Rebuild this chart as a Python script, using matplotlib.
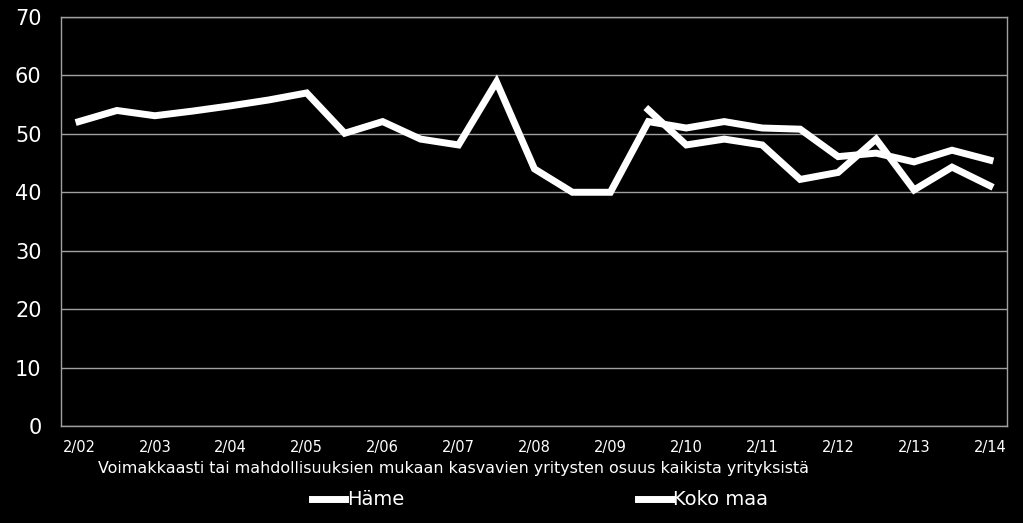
import matplotlib
matplotlib.use("Agg")
import matplotlib.pyplot as plt

# Data (half-year points, 2/02 ... 2/14)
x_pos = list(range(25))
hame = [52.1, 54.0, 53.1, 53.9, 54.8, 55.8, 57.0, 50.1, 52.1, 49.1, 48.1, 58.9,
        44.0, 40.0, 40.0, 52.1, 51.0, 52.1, 51.0, 50.8, 46.1, 46.7, 45.2, 47.2, 45.5]
koko_x = list(range(15, 25))
koko_maa = [54.1, 48.1, 49.1, 48.1, 42.2, 43.4, 49.1, 40.4, 44.3, 41.1]
tick_pos = list(range(0, 25, 2))
tick_labels = ["2/02", "2/03", "2/04", "2/05", "2/06", "2/07", "2/08",
               "2/09", "2/10", "2/11", "2/12", "2/13", "2/14"]

fig = plt.figure(figsize=(10.23, 5.23), dpi=100, facecolor="black")
ax = fig.add_axes([0.0596, 0.1855, 0.9248, 0.782], facecolor="black")

ax.plot(x_pos, hame, color="white", lw=5, solid_joinstyle="miter", label="Häme")
ax.plot(koko_x, koko_maa, color="white", lw=5, solid_joinstyle="miter", label="Koko maa")

ax.set_xlim(-0.474, 24.45)
ax.set_ylim(0, 70)
ax.set_yticks(range(0, 71, 10))
ax.set_xticks(tick_pos)
ax.set_xticklabels(tick_labels, fontsize=10.5, color="white")
for lbl in ax.get_yticklabels():
    lbl.set_fontsize(15)
    lbl.set_color("white")
ax.tick_params(axis="both", length=0)
ax.tick_params(axis="y", pad=14)
ax.tick_params(axis="x", pad=10)
ax.grid(axis="y", color="#a0a0a0", lw=1)
ax.set_axisbelow(True)
for s in ax.spines.values():
    s.set_color("#a0a0a0")
    s.set_linewidth(1)

fig.text(0.443, 0.105, "Voimakkaasti tai mahdollisuuksien mukaan kasvavien yritysten osuus kaikista yrityksistä",
         fontsize=11.4, color="white", ha="center", va="center")

leg = fig.legend(loc="center", bbox_to_anchor=(0.528, 0.044), ncol=2, frameon=False,
                 handlelength=1.7, handletextpad=0.1, columnspacing=12,
                 prop={"size": 14})
for t in leg.get_texts():
    t.set_color("white")

fig.savefig("out.png", dpi=100, facecolor="black")
